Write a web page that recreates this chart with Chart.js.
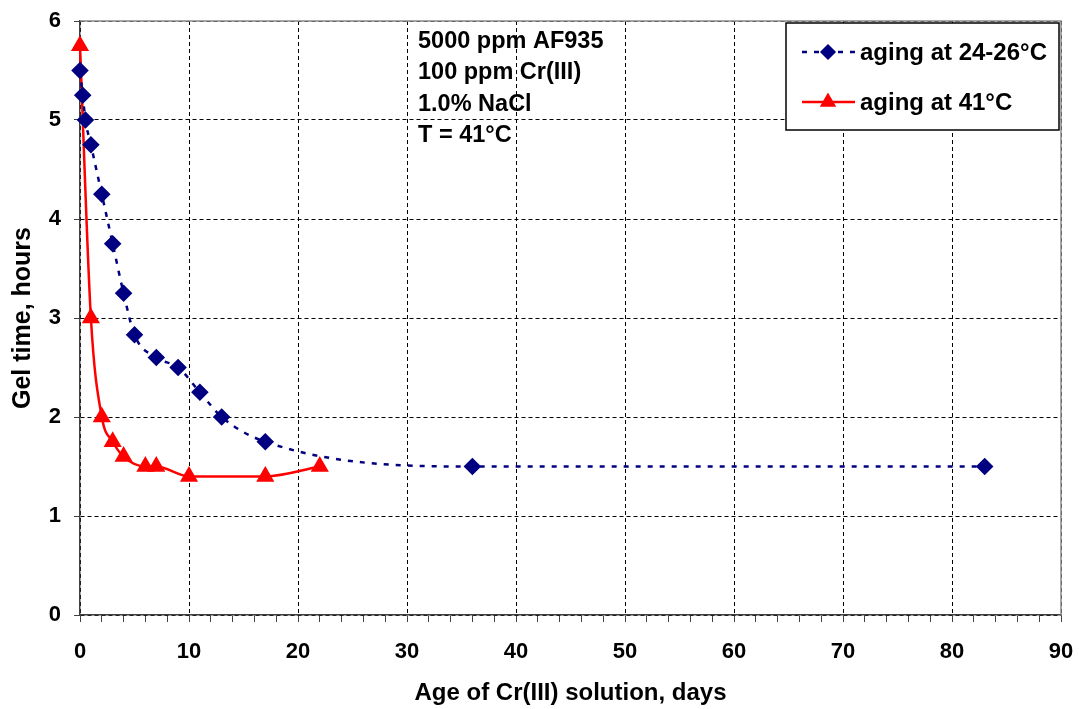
<!DOCTYPE html>
<html>
<head>
<meta charset="utf-8">
<script src="https://cdn.jsdelivr.net/npm/chart.js@4/dist/chart.umd.min.js"></script>
<style>
    html, body { margin: 0; padding: 0; background: #fff; }
    #wrap { width: 1079px; height: 709px; }
</style>
</head>
<body>
<div id="wrap"><canvas id="gelChart" width="1079" height="709"></canvas></div>
<script>
// values
const roomDays = [0, 0.25, 0.5, 1, 2, 3, 4, 5, 7, 9, 11, 13, 17, 36, 83];
const roomGel  = [5.5, 5.25, 5.0, 4.75, 4.25, 3.75, 3.25, 2.83, 2.6, 2.5, 2.25, 2.0, 1.75, 1.5, 1.5];
const warmDays = [0, 1, 2, 3, 4, 6, 7, 10, 17, 22];
const warmGel  = [5.75, 3.0, 2.0, 1.75, 1.6, 1.5, 1.5, 1.4, 1.4, 1.5];

const seriesLabels = ['aging at 24-26°C', 'aging at 41°C'];
const noteLines    = ['5000 ppm AF935', '100 ppm Cr(III)', '1.0% NaCl', 'T = 41°C'];
const xTitle = 'Age of Cr(III) solution, days';
const yTitle = 'Gel time, hours';
const xMax = 90;
const yMax = 6;

const FONT = '"Liberation Sans", Arial, sans-serif';
const NAVY = '#000080';
const RED  = '#FF0000';

const toPoints = (xs, ys) => xs.map((x, i) => ({ x, y: ys[i] }));

// plot frame, text block and legend box drawn on top of the chart
const extras = {
    id: 'extras',
    beforeDatasetsDraw(chart) {
        const { ctx, chartArea: a } = chart;
        ctx.save();
        ctx.strokeStyle = '#8a8a8a';
        ctx.lineWidth = 1.5;
        ctx.beginPath();
        ctx.moveTo(a.left, a.top);
        ctx.lineTo(a.right, a.top);
        ctx.lineTo(a.right, a.bottom);
        ctx.stroke();
        ctx.restore();
    },
    afterDraw(chart) {
        const ctx = chart.ctx;
        ctx.save();

        // condition notes
        ctx.fillStyle = '#000';
        ctx.font = `bold 23.5px ${FONT}`;
        ctx.textAlign = 'left';
        ctx.textBaseline = 'alphabetic';
        noteLines.forEach((t, i) => ctx.fillText(t, 418, 48 + i * 31.3));

        // legend
        const bx = 786, by = 23, bw = 273, bh = 107;
        ctx.fillStyle = '#fff';
        ctx.fillRect(bx, by, bw, bh);
        ctx.strokeStyle = '#000';
        ctx.lineWidth = 1.5;
        ctx.strokeRect(bx, by, bw, bh);

        const rows = [52, 102];
        chart.data.datasets.forEach((ds, i) => {
            const y = rows[i];
            ctx.save();
            ctx.strokeStyle = ds.borderColor;
            ctx.lineWidth = ds.borderWidth;
            ctx.setLineDash(ds.borderDash || []);
            ctx.beginPath();
            ctx.moveTo(802, y);
            ctx.lineTo(855, y);
            ctx.stroke();
            ctx.restore();

            ctx.fillStyle = ds.pointBackgroundColor;
            ctx.strokeStyle = ds.pointBorderColor;
            Chart.helpers.drawPoint(ctx, {
                pointStyle: ds.pointStyle,
                radius: ds.pointRadius,
                rotation: 0,
                borderWidth: 1
            }, 828, y);

            ctx.fillStyle = '#000';
            ctx.font = `bold 24px ${FONT}`;
            ctx.textBaseline = 'middle';
            ctx.fillText(ds.label, 860, y + 1);
        });

        ctx.restore();
    }
};

new Chart(document.getElementById('gelChart'), {
    type: 'line',
    data: {
        datasets: [
            {
                label: seriesLabels[0],
                data: toPoints(roomDays, roomGel),
                borderColor: NAVY,
                borderWidth: 2.5,
                borderDash: [5, 7],
                pointStyle: 'rectRot',
                pointRadius: 7,
                pointBackgroundColor: NAVY,
                pointBorderColor: NAVY,
                cubicInterpolationMode: 'monotone',
                clip: false
            },
            {
                label: seriesLabels[1],
                data: toPoints(warmDays, warmGel),
                borderColor: RED,
                borderWidth: 2.5,
                pointStyle: 'triangle',
                pointRadius: 8,
                pointBackgroundColor: RED,
                pointBorderColor: RED,
                cubicInterpolationMode: 'monotone',
                clip: false
            }
        ]
    },
    options: {
        responsive: false,
        animation: false,
        events: [],
        layout: { padding: { top: 21, right: 18, left: 0, bottom: 0 } },
        plugins: {
            legend: { display: false },
            tooltip: { enabled: false }
        },
        scales: {
            x: {
                type: 'linear',
                min: 0,
                max: xMax,
                afterFit: s => {
                    s.height = 94;
                    s.paddingLeft = 0;
                    s.paddingRight = 0;
                },
                ticks: {
                    stepSize: 2,
                    autoSkip: false,
                    maxRotation: 0,
                    padding: 17,
                    color: '#000',
                    font: { family: FONT, size: 22, weight: 'bold' },
                    callback: v => (v % 10 === 0 ? v : '')
                },
                grid: {
                    color: c => (c.tick && c.tick.value % 10 === 0 ? '#000' : 'rgba(0,0,0,0)'),
                    tickColor: '#404040',
                    tickLength: 7,
                    lineWidth: 1
                },
                border: { color: '#404040', width: 1.5, dash: [4, 3] },
                title: {
                    display: true,
                    text: xTitle,
                    color: '#000',
                    font: { family: FONT, size: 24, weight: 'bold' },
                    padding: { top: 0, bottom: 1 }
                }
            },
            y: {
                min: 0,
                max: yMax,
                afterFit: s => {
                    s.width = 80;
                    s.paddingTop = 0;
                    s.paddingBottom = 0;
                },
                ticks: {
                    stepSize: 1,
                    padding: 13,
                    color: '#000',
                    font: { family: FONT, size: 22, weight: 'bold' }
                },
                grid: {
                    color: '#000',
                    tickColor: '#404040',
                    tickLength: 6,
                    lineWidth: 1
                },
                border: { color: '#404040', width: 1.5, dash: [4, 3] },
                title: {
                    display: true,
                    text: yTitle,
                    color: '#000',
                    font: { family: FONT, size: 25, weight: 'bold' },
                    padding: { top: 8, bottom: 0 }
                }
            }
        }
    },
    plugins: [extras]
});
</script>
</body>
</html>
